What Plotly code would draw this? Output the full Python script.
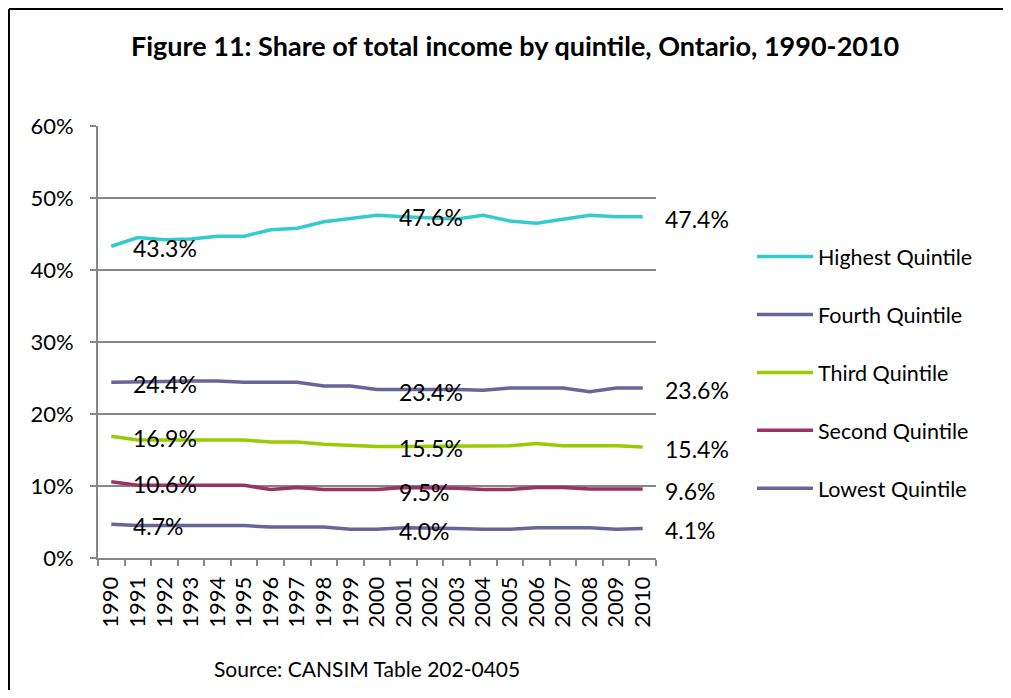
import plotly.graph_objects as go

years = [str(y) for y in range(1990, 2011)]

highest = [43.3, 44.5, 44.2, 44.3, 44.7, 44.7, 45.6, 45.8, 46.7, 47.2, 47.6,
           47.4, 47.2, 47.1, 47.6, 46.8, 46.5, 47.0, 47.6, 47.4, 47.4]
fourth = [24.4, 24.4, 24.5, 24.6, 24.6, 24.4, 24.4, 24.4, 23.9, 23.9, 23.4,
          23.4, 23.5, 23.4, 23.3, 23.6, 23.6, 23.6, 23.1, 23.6, 23.6]
third = [16.9, 16.4, 16.4, 16.4, 16.4, 16.4, 16.1, 16.1, 15.8, 15.6, 15.5,
         15.5, 15.5, 15.6, 15.6, 15.6, 15.9, 15.6, 15.6, 15.6, 15.4]
second = [10.6, 10.1, 10.1, 10.1, 10.1, 10.1, 9.5, 9.8, 9.5, 9.5, 9.5,
          9.8, 9.8, 9.7, 9.5, 9.5, 9.8, 9.8, 9.6, 9.6, 9.6]
lowest = [4.7, 4.5, 4.5, 4.5, 4.5, 4.5, 4.3, 4.3, 4.3, 4.0, 4.0,
          4.2, 4.2, 4.1, 4.0, 4.0, 4.2, 4.2, 4.2, 4.0, 4.1]

series_names = ["Highest Quintile", "Fourth Quintile", "Third Quintile",
                "Second Quintile", "Lowest Quintile"]
series_values = [highest, fourth, third, second, lowest]
series_colors = ["#33CCCC", "#666699", "#99CC00", "#993366", "#666699"]
label_years = ["1990", "2000", "2010"]

title_text = "Figure 11: Share of total income by quintile, Ontario, 1990-2010"
source_text = "Source: CANSIM Table 202-0405"

FONT = "Lato, 'Open Sans', sans-serif"

# page body margin (8px) is compensated: figure fits the window without overflow
OFF = 8
W, H = 1011 - 2 * OFF, 698 - 2 * OFF
L, R, T, B = 98 - OFF, 656 - OFF, 126 - OFF, 558 - OFF
pw, ph = R - L, B - T


def px(X):
    return (X - OFF - L) / pw


def py(Y):
    return (B - (Y - OFF)) / ph


fig = go.Figure()
annotations = []
for i, (name, vals, col) in enumerate(zip(series_names, series_values, series_colors)):
    fig.add_trace(go.Scatter(
        x=years, y=vals, mode="lines", name=name,
        line=dict(color=col, width=3.5),
        legendgroup=f"g{i}",
    ))
    for ly in label_years:
        idx = years.index(ly)
        annotations.append(dict(
            x=idx, y=vals[idx], xref="x", yref="y",
            text=f"{vals[idx]:.1f}%", showarrow=False,
            xanchor="left", yanchor="middle", xshift=20, yshift=-2,
            font=dict(family=FONT, size=23, color="#000000"),
        ))

annotations.append(dict(
    x=px(515), y=py(45), xref="paper", yref="paper",
    text=f"<b>{title_text}</b>", showarrow=False,
    xanchor="center", yanchor="middle",
    font=dict(family=FONT, size=27, color="#000000"),
))
annotations.append(dict(
    x=px(367), y=py(668), xref="paper", yref="paper",
    text=source_text, showarrow=False,
    xanchor="center", yanchor="middle",
    font=dict(family=FONT, size=21, color="#000000"),
))

# chart frame: left and top edges (right/bottom edges lie outside the view)
fig.add_shape(type="line", xref="paper", yref="paper",
              x0=px(9), x1=px(9), y0=py(9), y1=py(700),
              line=dict(color="#000000", width=2), layer="below")
fig.add_shape(type="line", xref="paper", yref="paper",
              x0=px(9), x1=px(1003), y0=py(9), y1=py(9),
              line=dict(color="#000000", width=2), layer="below")

fig.update_layout(
    width=W, height=H,
    margin=dict(l=L, r=W - R, t=T, b=H - B, autoexpand=False),
    paper_bgcolor="white", plot_bgcolor="white",
    font=dict(family=FONT, size=20, color="#000000"),
    annotations=annotations,
    showlegend=True,
    legend=dict(
        x=px(752), y=py(236), xanchor="left", yanchor="top",
        font=dict(family=FONT, size=21.5, color="#000000"),
        tracegroupgap=27, bgcolor="rgba(0,0,0,0)",
        itemwidth=56,
    ),
    xaxis=dict(
        type="category", tickangle=-90, showgrid=False,
        showline=True, linecolor="#868686", linewidth=2,
        ticks="outside", tickson="boundaries", ticklen=6, tickcolor="#868686",
        tickwidth=1.5, tickfont=dict(family=FONT, size=22),
        ticklabelstandoff=8, range=[-0.5, 20.5],
    ),
    yaxis=dict(
        range=[0, 60], dtick=10, ticksuffix="%",
        showgrid=True, gridcolor="#868686", gridwidth=1.5,
        showline=True, linecolor="#868686", linewidth=2,
        ticks="outside", ticklen=6, tickcolor="#868686", tickwidth=1.5,
        tickfont=dict(family=FONT, size=22), zeroline=False,
        ticklabelstandoff=12,
    ),
)

fig.write_html("out.html")
